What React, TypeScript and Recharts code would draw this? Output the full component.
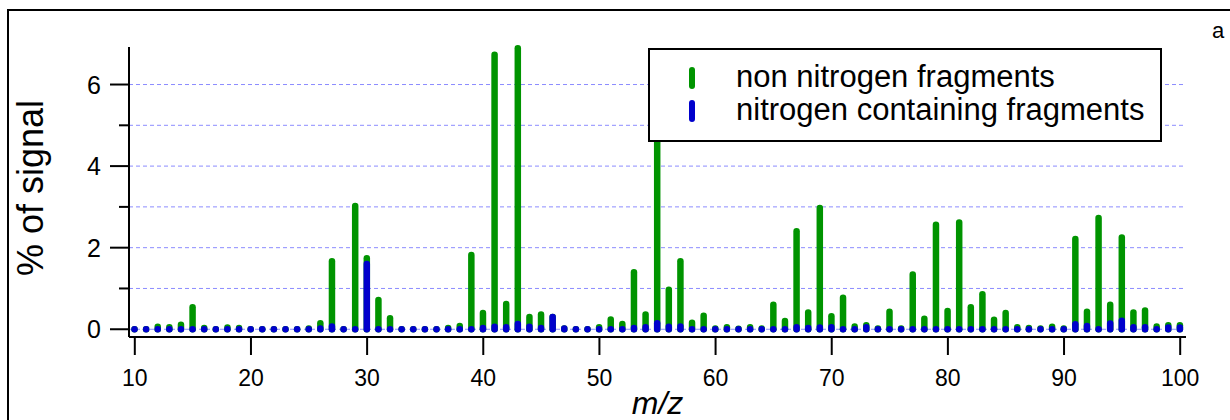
import React from 'react';
import { BarChart, Bar, XAxis, YAxis, CartesianGrid, Legend, Label } from 'recharts';

// m/z values (categories)
const mzValues = [
  10, 11, 12, 13, 14, 15, 16, 17, 18, 19,
  20, 21, 22, 23, 24, 25, 26, 27, 28, 29,
  30, 31, 32, 33, 34, 35, 36, 37, 38, 39,
  40, 41, 42, 43, 44, 45, 46, 47, 48, 49,
  50, 51, 52, 53, 54, 55, 56, 57, 58, 59,
  60, 61, 62, 63, 64, 65, 66, 67, 68, 69,
  70, 71, 72, 73, 74, 75, 76, 77, 78, 79,
  80, 81, 82, 83, 84, 85, 86, 87, 88, 89,
  90, 91, 92, 93, 94, 95, 96, 97, 98, 99, 100,
];

// % of signal, non nitrogen fragments
const nonNitrogen = [
  0, 0, 0.06, 0.05, 0.11, 0.54, 0.03, 0, 0.04, 0.03,
  0, 0, 0, 0, 0, 0.02, 0.15, 1.67, 0, 3.02,
  1.74, 0.72, 0.27, 0, 0, 0, 0, 0.03, 0.08, 1.82,
  0.4, 6.73, 0.62, 6.89, 0.3, 0.36, 0.3, 0.02, 0, 0,
  0.05, 0.24, 0.13, 1.4, 0.36, 4.9, 0.97, 1.67, 0.16, 0.33,
  0.02, 0.05, 0.01, 0.05, 0.02, 0.6, 0.2, 2.4, 0.41, 2.97,
  0.32, 0.77, 0.07, 0.1, 0.02, 0.43, 0.02, 1.34, 0.26, 2.56,
  0.45, 2.62, 0.54, 0.86, 0.23, 0.4, 0.05, 0.03, 0.02, 0.06,
  0.02, 2.21, 0.43, 2.73, 0.6, 2.25, 0.41, 0.46, 0.07, 0.1, 0.1,
];

// % of signal, nitrogen containing fragments
const nitrogen = [
  0, 0, 0, 0, 0, 0, 0, 0, 0, 0,
  0, 0, 0, 0, 0, 0, 0.02, 0.07, 0, 0,
  1.6, 0, 0, 0, 0, 0, 0, 0, 0, 0,
  0.03, 0.06, 0.05, 0.13, 0.06, 0.03, 0.3, 0.02, 0, 0,
  0, 0, 0, 0.03, 0.05, 0.15, 0.06, 0.07, 0, 0,
  0, 0, 0, 0, 0, 0, 0, 0.05, 0.03, 0.04,
  0.05, 0, 0, 0.05, 0, 0, 0, 0, 0, 0,
  0, 0, 0, 0, 0, 0, 0, 0, 0, 0,
  0, 0.12, 0.08, 0, 0.14, 0.21, 0.05, 0.05, 0, 0.04, 0.04,
];

const yTicks = [0, 1, 2, 3, 4, 5, 6];
const yLabels = [0, 2, 4, 6];

const GREEN = '#009400';
const BLUE = '#0000cc';
const FONT = '"Liberation Sans", Arial, Helvetica, sans-serif';

const data = mzValues.map((mz, i) => ({ mz, nonN: nonNitrogen[i], withN: nitrogen[i] }));

const stick = (color: string) => (props: any) => {
  const { x, y, width, height } = props;
  const cx = x + width / 2;
  return (
    <line x1={cx} x2={cx} y1={y + height} y2={y} stroke={color} strokeWidth={6.5} strokeLinecap="round" />
  );
};

const YTick = (props: any) => {
  const { x, y, payload } = props;
  const major = yLabels.includes(payload.value);
  return (
    <g>
      <line x1={major ? x - 19 : x - 10} x2={x} y1={y} y2={y} stroke="#000" strokeWidth={2} />
      {major && (
        <text x={x - 28} y={y} dy="0.36em" textAnchor="end" fontSize={25} fill="#000" fontFamily={FONT}>
          {payload.value}
        </text>
      )}
    </g>
  );
};

const legendItems = [
  { label: 'non nitrogen fragments', color: GREEN },
  { label: 'nitrogen containing fragments', color: BLUE },
];

const LegendBox = () => (
  <div
    style={{
      width: 514,
      height: 94,
      boxSizing: 'border-box',
      border: '2px solid #000',
      background: '#fff',
      paddingTop: 10,
      fontFamily: FONT,
      fontSize: 31,
      lineHeight: '33px',
      color: '#000',
    }}
  >
    {legendItems.map((it) => (
      <div key={it.label} style={{ position: 'relative', height: 33, paddingLeft: 86, whiteSpace: 'nowrap' }}>
        <span
          style={{
            position: 'absolute',
            left: 39,
            top: 7,
            width: 6,
            height: 22,
            borderRadius: 3,
            background: it.color,
          }}
        />
        {it.label}
      </div>
    ))}
  </div>
);

export default function App() {
  return (
    <div
      style={{
        position: 'fixed',
        left: 0,
        top: 0,
        width: 1230,
        height: 420,
        overflow: 'hidden',
        background: '#fff',
        fontFamily: FONT,
      }}
    >
      <div
        style={{
          position: 'absolute',
          left: 7,
          top: 9,
          width: 1400,
          height: 600,
          border: '2px solid #000',
        }}
      />
      <div style={{ position: 'absolute', left: 1212, top: 18, fontSize: 22, color: '#000' }}>a</div>
      <div style={{ position: 'absolute', left: 0, top: 0 }}>
        <BarChart
          width={1230}
          height={420}
          data={data}
          margin={{ top: 47, right: 44, bottom: 23, left: 60 }}
          barSize={7}
          barGap={-7}
        >
          <CartesianGrid vertical={false} stroke="#8c8cff" strokeDasharray="4 3" horizontalValues={yTicks} />
          <XAxis
            dataKey="mz"
            interval={9}
            height={60}
            tickSize={18}
            tickMargin={15}
            axisLine={{ stroke: '#000', strokeWidth: 2 }}
            tickLine={{ stroke: '#000', strokeWidth: 2 }}
            tick={{ fontSize: 23, fill: '#000', fontFamily: FONT }}
          >
            <Label
              content={(p: any) => {
                const vb = p.viewBox;
                return (
                  <text
                    x={vb.x + vb.width / 2}
                    y={vb.y + 77}
                    textAnchor="middle"
                    fontSize={32}
                    fontStyle="italic"
                    fill="#000"
                    fontFamily={FONT}
                  >
                    m/z
                  </text>
                );
              }}
            />
          </XAxis>
          <YAxis
            width={69}
            domain={[-0.19, 6.92]}
            ticks={yTicks}
            tickSize={0}
            tickMargin={0}
            tickLine={false}
            tick={<YTick />}
            axisLine={{ stroke: '#000', strokeWidth: 2 }}
          >
            <Label
              content={(p: any) => {
                const vb = p.viewBox;
                const cy = vb.y + vb.height / 2 - 4;
                return (
                  <text
                    x={43}
                    y={cy}
                    transform={`rotate(-90 43 ${cy})`}
                    textAnchor="middle"
                    fontSize={36}
                    fill="#000"
                    fontFamily={FONT}
                  >
                    % of signal
                  </text>
                );
              }}
            />
          </YAxis>
          <Bar dataKey="nonN" name="non nitrogen fragments" fill={GREEN} shape={stick(GREEN)} isAnimationActive={false} />
          <Bar dataKey="withN" name="nitrogen containing fragments" fill={BLUE} shape={stick(BLUE)} isAnimationActive={false} />
          <Legend
            layout="vertical"
            align="center"
            verticalAlign="middle"
            wrapperStyle={{ left: 648, top: 48, width: 514, height: 94 }}
            content={<LegendBox />}
          />
        </BarChart>
      </div>
    </div>
  );
}
